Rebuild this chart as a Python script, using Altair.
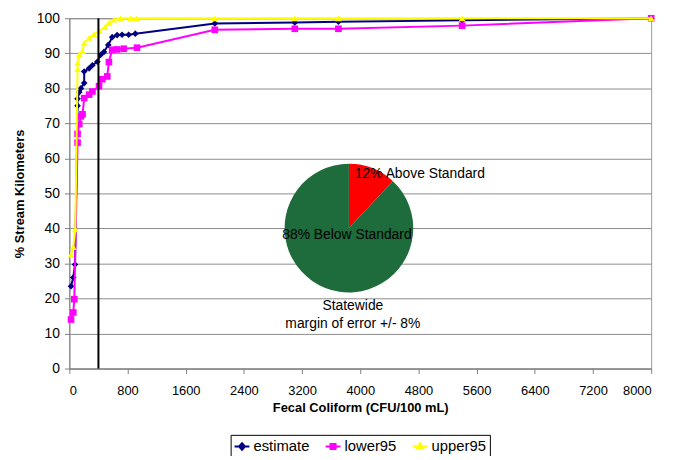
import altair as alt
import pandas as pd
import math

# ---------------- data ----------------
series_names = ["estimate", "lower95", "upper95"]
series_colors = ["#000080", "#FF00FF", "#FFFF00"]
series_shapes = ["diamond", "square", "triangle-up"]

estimate_x = [23, 54, 78, 113, 113, 136, 159, 204, 204, 272, 317, 385, 431, 476, 535, 589, 657, 725, 816, 907, 2000, 3100, 3700, 5400, 8000]
estimate_y = [23.5, 26, 29.7, 75, 77, 78.9, 80, 81.5, 84.8, 85.7, 86.6, 87.6, 89.6, 90.4, 92.4, 94.6, 95.2, 95.3, 95.3, 95.6, 98.5, 98.8, 99, 99.4, 100]

lower_x = [23, 54, 68, 113, 113, 136, 159, 181, 204, 272, 317, 408, 453, 521, 544, 589, 657, 748, 930, 2000, 3100, 3700, 5400, 8000]
lower_y = [14, 16, 19.8, 64.5, 67, 69.8, 72, 72.6, 77.2, 78.2, 79.1, 80.6, 82.6, 83.4, 87.5, 91, 91.1, 91.3, 91.6, 96.7, 97, 97, 97.9, 100]

upper_x = [23, 54, 82, 113, 113, 136, 181, 204, 272, 340, 408, 490, 544, 612, 703, 839, 930, 2000, 3100, 3700, 5400, 8000]
upper_y = [32.5, 34.7, 39.7, 85.5, 87.2, 89.7, 90.6, 93, 94.4, 95.4, 96.3, 97.5, 98.7, 99.6, 100, 100, 100, 100, 100, 100, 100, 100]

standard_value = [400]

pie_labels = ["Above Standard", "Below Standard"]
pie_values = [12, 88]
pie_colors = ["#FF0000", "#1E6B3C"]
pie_center = [3844, 40.1]   # data coordinates of the pie centre
pie_note = ["Statewide", "margin of error +/- 8%"]

x_ticks = list(range(0, 8001, 800))
y_ticks = list(range(0, 101, 10))

FONT = "Liberation Sans"

# ---------------- tables ----------------
rows = []
for name, xs, ys in zip(series_names, [estimate_x, lower_x, upper_x], [estimate_y, lower_y, upper_y]):
    for i, (xv, yv) in enumerate(zip(xs, ys)):
        rows.append({"series": name, "x": xv, "y": yv, "idx": i})
df = pd.DataFrame(rows)

total = sum(pie_values)
starts, ends, acc = [], [], 0.0
for v in pie_values:
    starts.append(2 * math.pi * acc / total)
    acc += v
    ends.append(2 * math.pi * acc / total)
pie_df = pd.DataFrame({"label": pie_labels, "value": pie_values, "a0": starts, "a1": ends})

x_scale = alt.Scale(domain=[0, 8000], nice=False, zero=False)
y_scale = alt.Scale(domain=[0, 100], nice=False)

x_axis = alt.Axis(values=x_ticks, format="d", title="Fecal Coliform (CFU/100 mL)", grid=False,
                  labelPadding=11, tickSize=5, titlePadding=4, labelOverlap=False)
y_axis = alt.Axis(values=y_ticks, format="d", title="% Stream Kilometers", grid=True,
                  gridColor="#8c8c8c", gridWidth=1, tickSize=5, labelPadding=5,
                  labelFontSize=14, titlePadding=10, labelOverlap=False)


def X(field=None, datum=None):
    if datum is not None:
        return alt.X(datum=datum, type="quantitative", scale=x_scale, axis=x_axis)
    return alt.X(field, type="quantitative", scale=x_scale, axis=x_axis)


def Y(field=None, datum=None):
    if datum is not None:
        return alt.Y(datum=datum, type="quantitative", scale=y_scale, axis=y_axis)
    return alt.Y(field, type="quantitative", scale=y_scale, axis=y_axis)


base = alt.Chart(df)
layers = []

# lines + markers, one series after the other (later series drawn on top)
for name, col, shp in zip(series_names, series_colors, series_shapes):
    sub = base.transform_filter(alt.datum.series == name)
    layers.append(sub.mark_line(strokeWidth=2, color=col).encode(
        x=X("x"), y=Y("y"), order=alt.Order("idx:Q")))
    layers.append(sub.mark_point(filled=True, opacity=1, size=45, shape=shp, color=col).encode(
        x=X("x"), y=Y("y")))

# the standard (400 CFU/100 mL)
layers.append(alt.Chart(pd.DataFrame({"x": standard_value})).mark_rule(color="black", strokeWidth=2).encode(
    x=X("x"), y=Y(datum=0), y2=alt.Y2(datum=100)
))

# pie inset
for lab, col in zip(pie_labels, pie_colors):
    layers.append(alt.Chart(pie_df).transform_filter(alt.datum.label == lab).mark_arc(
        outerRadius=65, color=col
    ).encode(
        theta=alt.Theta("a0:Q", scale=None),
        theta2="a1:Q",
        x=X(datum=pie_center[0]),
        y=Y(datum=pie_center[1]),
    ))


def pie_text(txt, dx, dy, align):
    return alt.Chart(pd.DataFrame({"t": [txt]})).mark_text(
        font=FONT, fontSize=14, color="black", align=align, baseline="middle", dx=dx, dy=dy
    ).encode(x=X(datum=pie_center[0]), y=Y(datum=pie_center[1]), text="t:N")


layers += [
    pie_text(f"{pie_values[0]}% {pie_labels[0]}", 6, -55, "left"),
    pie_text(f"{pie_values[1]}% {pie_labels[1]}", -2, 7, "center"),
    pie_text(pie_note[0], 4, 79, "center"),
    pie_text(pie_note[1], 4, 97, "center"),
]

# legend (line + marker symbols)
legend_paths = [
    "M-1,0L1,0M0,-0.45L0.4,0L0,0.45L-0.4,0Z",
    "M-1,0L1,0M-0.34,-0.34L0.34,-0.34L0.34,0.34L-0.34,0.34Z",
    "M-1,0L1,0M0,-0.42L0.42,0.32L-0.42,0.32Z",
]
leg = dict(orient="none", legendX=163, legendY=421, direction="horizontal", title=None,
           strokeColor="#000000", padding=3, symbolSize=225, symbolStrokeWidth=2,
           symbolOpacity=1,
           labelFont=FONT, labelFontSize=15, labelColor="black", columnPadding=12, labelOffset=3)
layers.append(alt.Chart(pd.DataFrame({"series": series_names})).mark_point(
    size=0, filled=True, strokeWidth=2
).encode(
    fill=alt.Fill("series:N", scale=alt.Scale(domain=series_names, range=series_colors), legend=alt.Legend(**leg)),
    stroke=alt.Stroke("series:N", scale=alt.Scale(domain=series_names, range=series_colors), legend=alt.Legend(**leg)),
    shape=alt.Shape("series:N", scale=alt.Scale(domain=series_names, range=legend_paths), legend=alt.Legend(**leg)),
))

chart = alt.layer(*layers).properties(
    width=588, height=354,
    padding={"left": 62, "top": 8, "right": 16, "bottom": 86},
    autosize=alt.AutoSizeParams(type="none"),
).configure_view(
    stroke="#999999", strokeWidth=1
).configure_axis(
    labelFont=FONT, labelFontSize=13, labelColor="black",
    titleFont=FONT, titleFontSize=13, titleFontWeight="bold", titleColor="black",
    domainColor="#808080", tickColor="#808080"
)

chart.save("out.html", embed_options={"renderer": "svg", "actions": False})
